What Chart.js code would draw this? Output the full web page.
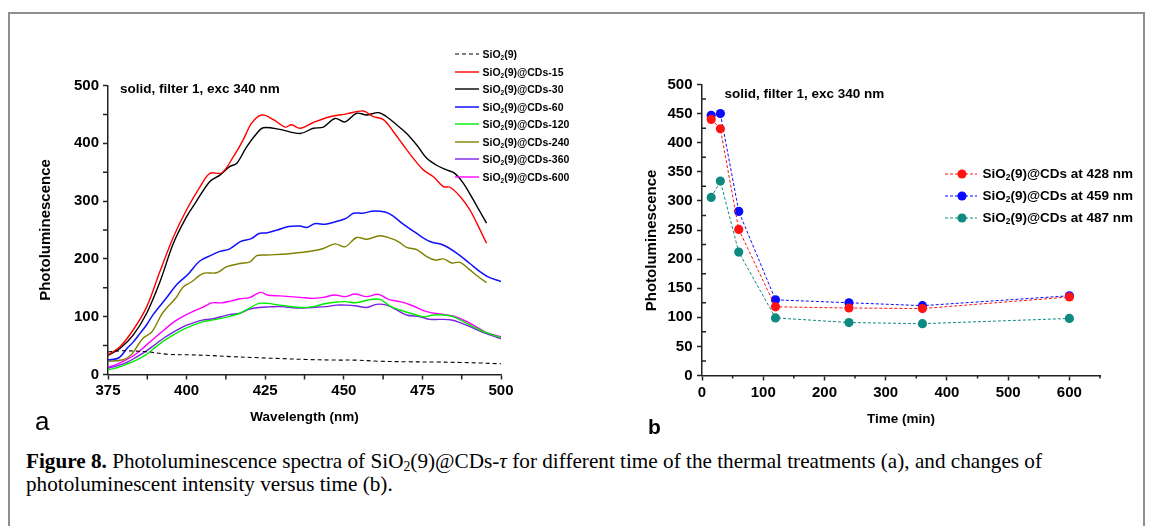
<!DOCTYPE html>
<html><head><meta charset="utf-8">
<script src="https://cdn.jsdelivr.net/npm/chart.js@4.4.1/dist/chart.umd.min.js"></script>
<style>
html,body{margin:0;padding:0;background:#fff;}
#wrap{position:relative;width:1153px;height:526px;overflow:hidden;background:#fff;font-family:"Liberation Sans",Arial,sans-serif;color:#000;}
#frame{position:absolute;left:8px;top:12px;width:1137px;height:560px;border:2px solid #8f8f8f;box-sizing:border-box;}
canvas{position:absolute;top:0;}
.txt{position:absolute;white-space:nowrap;line-height:1;}
.txt sub{font-size:0.62em;vertical-align:-0.28em;line-height:0;}
.cap{position:absolute;left:26px;white-space:nowrap;font-family:"Liberation Serif","Times New Roman",serif;font-size:21px;line-height:1;transform-origin:0 0;display:inline-block;}
.cap sub{font-size:0.65em;vertical-align:-0.25em;line-height:0;}
svg{position:absolute;overflow:visible;}
</style>
</head><body>
<div id="wrap">
  <div id="frame"></div>
  <canvas id="ca" width="580" height="440" style="left:0px"></canvas>
  <canvas id="cb" width="573" height="440" style="left:580px"></canvas>
  <div id="overlay"></div>
  <div id="cap1" class="cap"><b>Figure 8.</b> Photoluminescence spectra of SiO<sub>2</sub>(9)@CDs-<i>τ</i> for different time of the thermal treatments (a), and changes of</div>
  <div id="cap2" class="cap">photoluminescent intensity versus time (b).</div>
</div>
<script>
// ---------- Panel (a) data: wavelength (nm) / photoluminescence ----------
const wlSiO2 = [375,379,387,394,401,407,414,423,430,438,447,454,461,470,480,487,493,500];
const plSiO2 = [39,41,39.5,35,34,33,31,29,27.5,26,25,24.8,23,22,21.5,20.8,20,18.5];

const wl15 = [375,378.8,383,387.3,391.5,395.8,400,404.3,407.4,411.2,414.9,418,420.7,423.9,427.6,431.3,433.4,436.1,440.3,445.6,450.9,456.2,459.4,462.6,465.8,468.9,472.1,475.3,478.5,481.7,483.8,487,490.1,492.3,495.4];
const pl15 = [34,48,77,117,178,238,285,325,348,349,377,406,435,449,441,428,432,426,436,446,451,456,446,441,420,397,374,354,342,325,324,308,285,262,227];

const wl30 = [375,378.8,383,387.3,391.5,395.8,400,402.7,407.4,410.6,413.8,415.9,419.1,422.3,424.4,429.7,436.1,440.3,443.5,447.2,450.4,454.1,457.3,461,463.6,466.8,470,473.2,476.4,479.5,482.7,485.3,488,491.2,493.3,495.4];
const pl30 = [33,45,68,106,160,227,273,296,334,345,360,365,394,417,427,424,417,426,428,443,437,452,449,453,446,432,417,397,374,362,354,348,331,302,282,262];

const wl60 = [375,378.5,381,383,385.3,387.3,389.4,393.5,397.1,400.4,404.1,407.7,410.6,413.6,417.1,420.6,423,425.4,428.9,432.4,436,438.3,440.7,444.2,447.8,450.7,453.1,456,459.6,463.1,465.5,468.9,473.2,477.4,481.6,485.9,490.1,493.3,495.9,500];
const pl60 = [25,29,45,56,72,86,104,132,157,173,196,206,213,217,230,235,244,245,250,256,257,254.5,261,260,265,270,279,279,283,281,275,260,244,230,224,210,192,178,169,161];

const wl120 = [375,378,381,384,387,390,393,396,399,402,405,408,411,414,417,420,423,425.5,429.7,436.1,440.3,443.5,447.2,450.4,454.1,457.8,461.5,464.7,467.9,472.1,475.3,478.5,481.7,484.8,489.1,492.3,496,500];
const pl120 = [8,12,18,25,34,47,59,69,78,85,91,94,97,101,106,115,123,123,120,116,117.4,122,125,126,124.3,129,130,118.5,111.6,104.6,100,103,103,100,88.4,79.8,71,64];

const wl240 = [375,379.4,382.3,386,389,392.3,396.5,399,401.5,405.3,409.6,412.8,417,420.2,422.3,425.5,431.8,436.1,440.3,443.5,447.2,450.4,454.1,457.3,461.5,464.7,467.3,470,473.2,476.4,479,481.7,484.3,487,490.1,492.8,495.4];
const pl240 = [23,25,33.5,62,74,106,132,152,160,175,176,186.5,192,195,205.5,206.7,208.5,211,214,218,226,221,237,234,240,236,230,220,216,204,198,200,193,194,181,169,159];

const wl360 = [375,378,381,384,387,390,393,396,399,402,405,408,411,414,417,420,423,426,430,435,440,444.5,447.7,450.9,454.1,457.3,460.4,463.6,466.8,470,474.2,477.4,480.6,484.3,487.5,490.7,494.4,500];
const pl360 = [11,15,21,30,40,52,64,74,83,89,94,96,100,104,106,113,116,117,117.5,115,116,117.4,120,120,118.5,116,121.4,120,111.6,103,100,95.4,95.4,94.3,88.5,81.5,72.4,62];

const wl600 = [375,378,381,384,387,390,393,396,399,402,405,408,411,414,417,420,423.5,426,429.7,436.1,440.3,443.5,447.2,450.4,453.6,457.3,461,464.2,467.9,472.1,476.4,480.6,484.8,488,491.2,495.4,500];
const pl600 = [13,18,26,36,50,64,78,91,101,109,116,124,124,127,131,133,142,137,136,133.5,131.7,133.5,137.5,134.7,139.3,134.7,138.7,130,126,118.5,108.7,104.6,101.2,94.3,85.6,72.4,65.5];

const labelsA = ['SiO2(9)','SiO2(9)@CDs-15','SiO2(9)@CDs-30','SiO2(9)@CDs-60','SiO2(9)@CDs-120','SiO2(9)@CDs-240','SiO2(9)@CDs-360','SiO2(9)@CDs-600'];
const xTicksA = [375,400,425,450,475,500];
const yTicksA = [0,100,200,300,400,500];

// ---------- Panel (b) data: time (min) / photoluminescence ----------
const timesB = [15,30,60,120,240,360,600];
const pl428 = [440,424,251,118,116,115,135];
const pl459 = [447,450,282,130,125,120,137];
const pl487 = [306,334,212,99,91,89,98];
const labelsB = ['SiO2(9)@CDs at 428 nm','SiO2(9)@CDs at 459 nm','SiO2(9)@CDs at 487 nm'];
const xTicksB = [0,100,200,300,400,500,600];
const yTicksB = [0,50,100,150,200,250,300,350,400,450,500];

// ---------- helpers ----------
const toXY = (xs, ys) => xs.map((x, i) => ({x: x, y: ys[i]}));
const FONT = '"Liberation Sans", Arial, sans-serif';

const minorTicks = {
  id: 'minorTicks',
  afterDraw(chart, args, opts) {
    const ctx = chart.ctx;
    (opts.list || []).forEach(m => {
      const s = chart.scales[m.scale];
      ctx.save();
      ctx.strokeStyle = m.color; ctx.lineWidth = m.width;
      ctx.beginPath();
      for (let v = m.from; v <= m.to + 1e-9; v += m.step) {
        const p = s.getPixelForValue(v);
        if (s.isHorizontal()) { ctx.moveTo(p, s.top); ctx.lineTo(p, s.top + m.len * m.dir); }
        else { ctx.moveTo(s.right, p); ctx.lineTo(s.right + m.len * m.dir, p); }
      }
      ctx.stroke();
      ctx.restore();
    });
  }
};

function axisOpts(o) {
  return {
    type: 'linear', min: o.min, max: o.max,
    afterBuildTicks: s => { s.ticks = o.ticks.map(v => ({value: v})); },
    afterFit: s => {
      if (o.width !== undefined) { s.width = o.width; s.paddingTop = 0; s.paddingBottom = 0; }
      if (o.height !== undefined) { s.height = o.height; s.paddingLeft = 0; s.paddingRight = 0; }
    },
    ticks: {font: {family: FONT, size: 15, weight: 'bold'}, color: '#000', padding: o.tpad, maxRotation: 0, autoSkip: false},
    grid: {display: true, drawOnChartArea: false, drawTicks: true, tickLength: 5, tickWidth: 1.5, tickColor: '#222'},
    border: {display: true, color: '#222', width: 1.5},
    title: {display: true, text: o.title, color: '#000', font: {family: FONT, size: o.tsize, weight: 'bold'}, padding: o.titlePad}
  };
}

// ---------- Chart (a) ----------
const styleA = [
  {c: '#000000', w: 1.1, d: [4, 3]},
  {c: '#ff0000', w: 1.4}, {c: '#000000', w: 1.4}, {c: '#1010ff', w: 1.5},
  {c: '#00ee00', w: 1.4}, {c: '#808000', w: 1.4}, {c: '#7a1ee8', w: 1.4}, {c: '#ff00ff', w: 1.4}
];
const dataA = [[wlSiO2, plSiO2], [wl15, pl15], [wl30, pl30], [wl60, pl60], [wl120, pl120], [wl240, pl240], [wl360, pl360], [wl600, pl600]];

const chartA = new Chart(document.getElementById('ca'), {
  type: 'line',
  data: {
    datasets: dataA.map((d, i) => ({
      label: labelsA[i], data: toXY(d[0], d[1]),
      borderColor: styleA[i].c, backgroundColor: styleA[i].c, borderWidth: styleA[i].w,
      borderDash: styleA[i].d || [], pointRadius: 0, tension: 0.35, fill: false
    }))
  },
  options: {
    responsive: false, animation: false, devicePixelRatio: 1,
    layout: {padding: {left: 0, right: 79, top: 85.5, bottom: 0}},
    plugins: {
      legend: {display: false}, tooltip: {enabled: false},
      minorTicks: {list: [
        {scale: 'x', from: 387.5, to: 487.5, step: 25, len: 5, dir: 1, color: '#222', width: 1.5},
        {scale: 'y', from: 50, to: 450, step: 100, len: 5, dir: -1, color: '#222', width: 1.5}
      ]}
    },
    scales: {
      x: axisOpts({min: 375, max: 500, ticks: xTicksA, height: 65.5, tpad: 2, title: 'Wavelength (nm)', tsize: 13.5, titlePad: {top: 0, bottom: 15}}),
      y: axisOpts({min: 0, max: 500, ticks: yTicksA, width: 108, tpad: 4, title: 'Photoluminescence', tsize: 15, titlePad: {top: 37, bottom: 0}})
    }
  },
  plugins: [minorTicks]
});

// ---------- Chart (b) ----------
const styleB = [{c: '#ff1414'}, {c: '#0a0aff'}, {c: '#0f8a80'}];
const dataB = [pl428, pl459, pl487];
const chartB = new Chart(document.getElementById('cb'), {
  type: 'line',
  data: {
    datasets: dataB.map((d, i) => ({
      label: labelsB[i], data: toXY(timesB, d),
      borderColor: styleB[i].c, backgroundColor: styleB[i].c, borderWidth: 1,
      borderDash: [3, 2], pointRadius: 4.6, pointBorderWidth: 0,
      pointBackgroundColor: styleB[i].c, tension: 0, fill: false
    }))
  },
  options: {
    responsive: false, animation: false, devicePixelRatio: 1,
    layout: {padding: {left: 0, right: 53, top: 84.5, bottom: 0}},
    plugins: {
      legend: {display: false}, tooltip: {enabled: false},
      minorTicks: {list: [
        {scale: 'x', from: 50, to: 650, step: 100, len: 3, dir: 1, color: '#222', width: 1.5},
        {scale: 'y', from: 25, to: 475, step: 50, len: 4, dir: 1, color: '#222', width: 1.5}
      ]}
    },
    scales: {
      x: axisOpts({min: 0, max: 650, ticks: xTicksB, height: 64.5, tpad: 3, title: 'Time (min)', tsize: 13.5, titlePad: {top: 0, bottom: 13}}),
      y: axisOpts({min: 0, max: 500, ticks: yTicksB, width: 122, tpad: 4.5, title: 'Photoluminescence\u00a0\u00a0\u00a0\u00a0\u00a0', tsize: 15, titlePad: {top: 63, bottom: 0}})
    }
  },
  plugins: [minorTicks]
});

// ---------- HTML overlay texts & legends ----------
const overlay = document.getElementById('overlay');
const subify = s => s.replace('SiO2', 'SiO<sub>2</sub>');
function addText(html, x, cy, size, weight) {
  const el = document.createElement('div');
  el.className = 'txt';
  el.innerHTML = html;
  el.style.left = x + 'px';
  el.style.top = (cy - 0.4865 * size) + 'px';
  el.style.fontSize = size + 'px';
  el.style.fontWeight = weight || 'normal';
  overlay.appendChild(el);
  return el;
}
function addSample(x0, x1, cy, ds, marker) {
  const ns = 'http://www.w3.org/2000/svg';
  const svg = document.createElementNS(ns, 'svg');
  svg.setAttribute('width', x1 - x0); svg.setAttribute('height', 12);
  svg.style.left = x0 + 'px'; svg.style.top = (cy - 6) + 'px';
  const ln = document.createElementNS(ns, 'line');
  ln.setAttribute('x1', 0); ln.setAttribute('x2', x1 - x0);
  ln.setAttribute('y1', 6); ln.setAttribute('y2', 6);
  ln.setAttribute('stroke', ds.borderColor);
  ln.setAttribute('stroke-width', ds.borderWidth);
  if (ds.borderDash && ds.borderDash.length) ln.setAttribute('stroke-dasharray', ds.borderDash.join(' '));
  svg.appendChild(ln);
  if (marker) {
    const c = document.createElementNS(ns, 'circle');
    c.setAttribute('cx', marker - x0); c.setAttribute('cy', 6); c.setAttribute('r', ds.pointRadius);
    c.setAttribute('fill', ds.borderColor);
    svg.appendChild(c);
  }
  overlay.appendChild(svg);
}
chartA.data.datasets.forEach((ds, i) => {
  const cy = 54.3 + 17.5 * i;
  addSample(455, 479, cy, ds);
  addText(subify(ds.label), 482.5, cy, 10.5, 'bold');
});
chartB.data.datasets.forEach((ds, i) => {
  const cy = 174 + 22 * i;
  addSample(945, 977, cy, ds, 962);
  addText(subify(ds.label), 982.5, cy, 13.5, 'bold');
});
addText('solid, filter 1, exc 340 nm', 120, 88.3, 13.5, 'bold');
addText('solid, filter 1, exc 340 nm', 724.5, 93.3, 13.5, 'bold');
addText('a', 35, 421, 26, 'normal');
addText('b', 648, 426.5, 21, 'bold');

// caption sizing
const c1 = document.getElementById('cap1'), c2 = document.getElementById('cap2');
const k = 1016 / c1.getBoundingClientRect().width;
[c1, c2].forEach(c => { c.style.transform = 'scaleX(' + k + ')'; });
c1.style.top = (460 - 0.45 * 21) + 'px';
c2.style.top = (483 - 0.45 * 21) + 'px';
</script>
</body></html>
